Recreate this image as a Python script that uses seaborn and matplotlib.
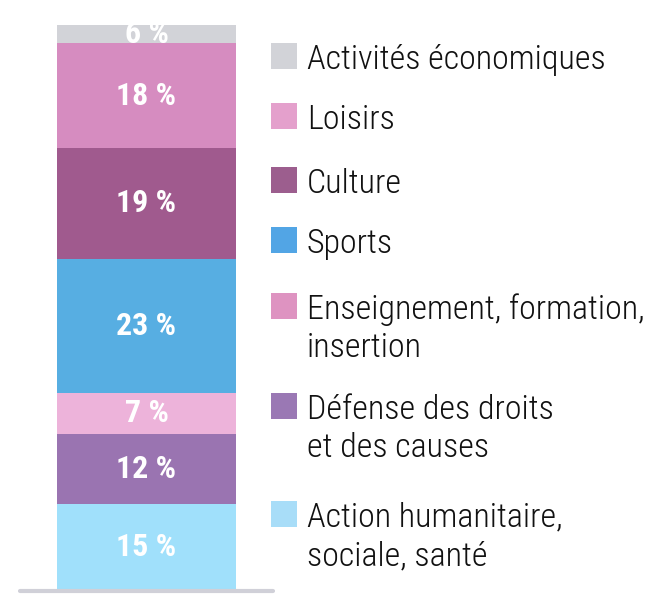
import numpy as np
import pandas as pd
import matplotlib.pyplot as plt
import seaborn as sns
from matplotlib import font_manager
from matplotlib.patches import Rectangle

# data, from bottom to top of the bar
categories = ["Action humanitaire,\nsociale, santé", "Défense des droits\net des causes",
              "Enseignement, formation,\ninsertion", "Sports", "Culture", "Loisirs",
              "Activités économiques"]
shares = [15, 12, 7, 23, 19, 18, 6]
bar_colors = ["#A0E0FB", "#9A74B1", "#EDB3DA", "#57AEE2", "#A05A8E", "#D68CC0", "#D2D3D8"]
legend_colors = ["#A8DDF8", "#9A78B4", "#DE93C1", "#52A5E5", "#9C5E8E", "#E4A0CC", "#D2D3D8"]

names = {f.name for f in font_manager.fontManager.ttflist}
cond = "Roboto Condensed" in names
fam = ["Roboto Condensed", "DejaVu Sans"] if cond else ["Roboto", "DejaVu Sans"]

sns.set_style("white")
plt.rcParams["font.family"] = fam

W, H = 661, 615
fig = plt.figure(figsize=(W / 100, H / 100), dpi=100)
# axes from x=20..273 px, y=25..591 px
ax = fig.add_axes([20 / W, (H - 591) / H, 253 / W, 566 / H])

df = pd.DataFrame({"cat": categories, "share": shares, "color": bar_colors})
df["top"] = df["share"].cumsum()
df["mid"] = df["top"] - df["share"] / 2

# overlay cumulative bars, tallest first
for i in range(len(df) - 1, -1, -1):
    sns.barplot(x=[""], y=[df["top"][i]], color=df["color"][i], width=179 / 253,
                saturation=1, ax=ax, linewidth=0)

ymax = 97.1
ax.set_xlim(-0.5, 0.5)
ax.set_ylim(0, ymax)
for s in ax.spines.values():
    s.set_visible(False)
ax.set_xticks([])
ax.set_yticks([])
ax.set_xlabel("")
ax.set_ylabel("")
ax.axhline(0, color="#D0D0D8", lw=3, clip_on=False, zorder=5)

lab_size = 23 if cond else 19
for i, row in df.iterrows():
    y = row["mid"]
    if row["top"] > ymax:
        y = (row["top"] - row["share"] + ymax) / 2
    ax.text(0, y, f"{row['share']} %", ha="center", va="center", color="white",
            fontsize=lab_size, fontweight="bold", clip_on=True)

# legend, top to bottom
sw_tops = [43, 103, 167, 227, 293, 393, 501]
leg_size = 24.5 if cond else 21
line_px = 38
for k, i in enumerate(range(len(df) - 1, -1, -1)):
    t = sw_tops[k]
    fig.patches.append(Rectangle((271 / W, (H - t - 26) / H), 26 / W, 26 / H,
                                 transform=fig.transFigure, color=legend_colors[i],
                                 lw=0))
    n = df["cat"][i].count("\n")
    # va=baseline sits on the last line, so shift down by the extra lines
    fig.text(307 / W, (H - t - 26 - n * line_px) / H, df["cat"][i], ha="left",
             va="baseline", fontsize=leg_size, fontweight="light", color="#111111",
             linespacing=1.25)

fig.savefig("out.png", dpi=100)
